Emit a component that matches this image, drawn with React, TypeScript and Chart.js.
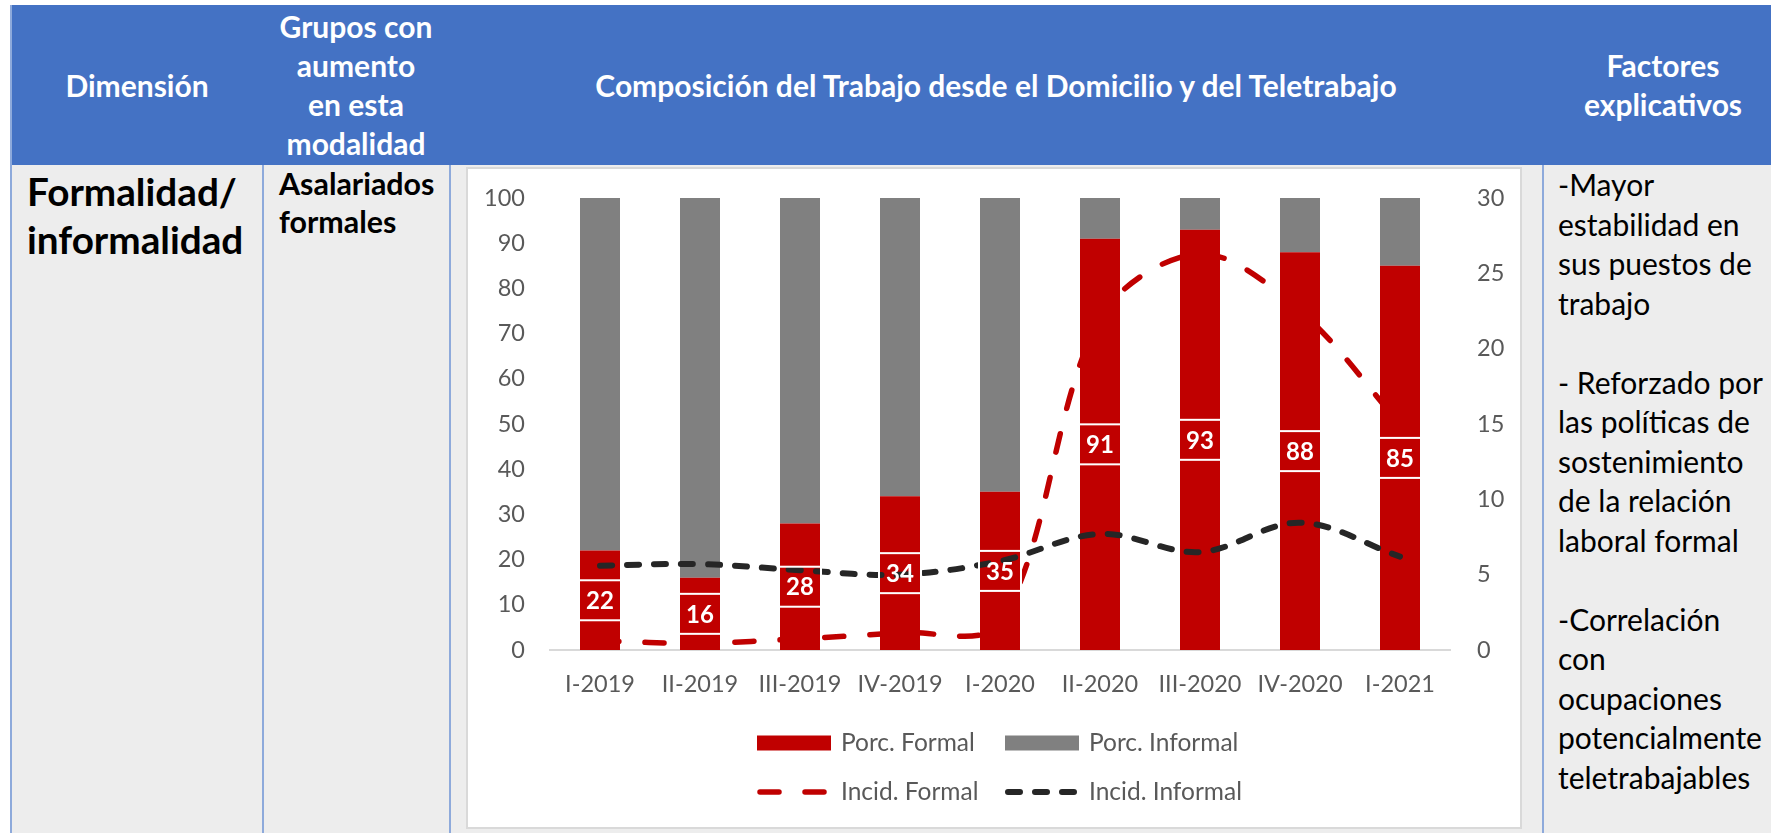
import React, { useEffect, useRef } from "react";
import { Chart, registerables } from "chart.js";

Chart.register(...registerables);

const categories = ["I-2019", "II-2019", "III-2019", "IV-2019", "I-2020", "II-2020", "III-2020", "IV-2020", "I-2021"];
const porcFormal = [22, 16, 28, 34, 35, 91, 93, 88, 85];
const porcInformal = [78, 84, 72, 66, 65, 9, 7, 12, 15];
const incidFormal = [0.6, 0.45, 0.75, 1.15, 1.8, 22, 26.3, 22.5, 15];
const incidInformal = [5.6, 5.7, 5.3, 5.0, 5.9, 7.7, 6.5, 8.45, 6.2];

const leftAxisMax = 100;
const leftAxisStep = 10;
const rightAxisMax = 30;
const rightAxisStep = 5;

const seriesLabels = ["Porc. Formal", "Porc. Informal", "Incid. Formal", "Incid. Informal"];

const headerTitles = ["Dimensión", "Grupos con\naumento\nen esta\nmodalidad", "Composición del Trabajo desde el Domicilio y del Teletrabajo", "Factores\nexplicativos"];
const dimensionText = ["Formalidad/", "informalidad"];
const groupText = ["Asalariados", "formales"];
const factorLines = [
  "-Mayor", "estabilidad en", "sus puestos de", "trabajo", "",
  "- Reforzado por", "las políticas de", "sostenimiento", "de la relación", "laboral formal", "",
  "-Correlación", "con", "ocupaciones", "potencialmente", "teletrabajables",
];

const FONT = "Lato, 'Open Sans', sans-serif";
const RED = "#C00000";
const GREY = "#808080";
const DARK = "#262626";
const TICK = "#595959";

const barLabelPlugin = {
  id: "barLabels",
  afterDatasetsDraw(chart: any) {
    const meta = chart.getDatasetMeta(0);
    const values = chart.data.datasets[0].data as number[];
    const ctx = chart.ctx as CanvasRenderingContext2D;
    ctx.save();
    ctx.font = `bold 24px ${FONT}`;
    ctx.textAlign = "center";
    ctx.textBaseline = "middle";
    meta.data.forEach((el: any, i: number) => {
      const p = el.getProps(["x", "y", "base", "width"], true);
      const cy = (p.y + p.base) / 2;
      const w = p.width + 2;
      const h = 40;
      ctx.strokeStyle = "#ffffff";
      ctx.lineWidth = 2;
      ctx.strokeRect(p.x - w / 2, cy - h / 2, w, h);
      ctx.fillStyle = "#ffffff";
      ctx.fillText(String(values[i]), p.x, cy + 1);
    });
    ctx.restore();
  },
};

const legendPlugin = {
  id: "customLegend",
  afterDraw(chart: any) {
    const ctx = chart.ctx as CanvasRenderingContext2D;
    const a = chart.chartArea;
    const ds = chart.data.datasets;
    const cols = [a.left + 207, a.left + 455];
    const rows = [a.bottom + 93, a.bottom + 142];
    ctx.save();
    ctx.font = `24.5px ${FONT}`;
    ctx.textBaseline = "middle";
    ctx.textAlign = "left";
    ds.forEach((d: any, i: number) => {
      const col = i % 2;
      const row = Math.floor(i / 2);
      const x = cols[col];
      const y = rows[row];
      if (row === 0) {
        ctx.fillStyle = d.backgroundColor;
        ctx.fillRect(x, y - 7.5, 74, 15);
      } else {
        ctx.strokeStyle = d.borderColor;
        ctx.lineWidth = d.borderWidth;
        ctx.lineCap = "round";
        ctx.setLineDash(d.borderDash);
        ctx.beginPath();
        ctx.moveTo(x + 3, y);
        ctx.lineTo(x + 72, y);
        ctx.stroke();
        ctx.setLineDash([]);
      }
      ctx.fillStyle = TICK;
      ctx.fillText(d.label, x + 84, y);
    });
    ctx.restore();
  },
};

const noVerticalPadding = (s: any, w: number) => {
  s.width = w;
  s.paddingTop = 0;
  s.paddingBottom = 0;
};

function ChartBox() {
  const ref = useRef<HTMLCanvasElement>(null);
  useEffect(() => {
    const tickFont = { family: FONT, size: 23.5 };
    const chart = new Chart(ref.current as HTMLCanvasElement, {
      type: "bar",
      data: {
        labels: categories,
        datasets: [
          { type: "bar", label: seriesLabels[0], data: porcFormal, backgroundColor: RED, yAxisID: "y", stack: "s", order: 2, barPercentage: 0.4, categoryPercentage: 1 },
          { type: "bar", label: seriesLabels[1], data: porcInformal, backgroundColor: GREY, yAxisID: "y", stack: "s", order: 2, barPercentage: 0.4, categoryPercentage: 1 },
          { type: "line", label: seriesLabels[2], data: incidFormal, yAxisID: "y1", borderColor: RED, backgroundColor: RED, borderWidth: 5.5, borderDash: [19, 26], borderCapStyle: "round", pointRadius: 0, tension: 0.33, fill: false, order: 1 },
          { type: "line", label: seriesLabels[3], data: incidInformal, yAxisID: "y1", borderColor: DARK, backgroundColor: DARK, borderWidth: 6, borderDash: [12, 15], borderCapStyle: "round", pointRadius: 0, tension: 0.35, fill: false, order: 0 },
        ] as any,
      },
      options: {
        animation: false,
        responsive: false,
        events: [],
        layout: { padding: { top: 29, left: 0, right: 0, bottom: 0 } },
        plugins: { legend: { display: false }, tooltip: { enabled: false } },
        scales: {
          x: {
            stacked: true,
            grid: { display: false, drawTicks: false },
            border: { display: true, color: "#d9d9d9", width: 2 },
            ticks: { color: TICK, font: tickFont, padding: 20, maxRotation: 0, autoSkip: false },
            afterFit: (s: any) => { s.height = 177; },
          },
          y: {
            position: "left",
            stacked: true,
            min: 0,
            max: leftAxisMax,
            grid: { display: false, drawTicks: false },
            border: { display: false },
            ticks: { stepSize: leftAxisStep, color: TICK, font: tickFont, padding: 25 },
            afterFit: (s: any) => noVerticalPadding(s, 82),
          },
          y1: {
            position: "right",
            min: 0,
            max: rightAxisMax,
            grid: { display: false, drawTicks: false },
            border: { display: false },
            ticks: { stepSize: rightAxisStep, color: TICK, font: tickFont, padding: 27 },
            afterFit: (s: any) => noVerticalPadding(s, 70),
          },
        },
      } as any,
      plugins: [barLabelPlugin, legendPlugin],
    });
    return () => chart.destroy();
  }, []);
  return <canvas ref={ref} width={1052} height={658} style={{ display: "block" }} />;
}

export default function App() {
  const lineColor = "#8EAADB";
  const headerCell = (left: number, width: number, text: string, lh: number) => (
    <div
      style={{
        position: "absolute", left, top: 5, width, height: 160,
        display: "flex", alignItems: "center", justifyContent: "center",
        color: "#fff", fontWeight: 700, fontSize: 30, lineHeight: `${lh}px`, textAlign: "center", whiteSpace: "pre",
      }}
    >
      {text}
    </div>
  );
  return (
    <div style={{ position: "absolute", left: 0, top: 0, width: 1771, height: 833, overflow: "hidden", background: "#fff", fontFamily: FONT }}>
      <div style={{ position: "absolute", left: 11, top: 5, width: 1800, height: 160, background: "#4472C4" }} />
      <div style={{ position: "absolute", left: 11, top: 165, width: 1800, height: 700, background: "#EDEDED" }} />
      {[10, 262, 449, 1542].map((x) => (
        <div key={x} style={{ position: "absolute", left: x, top: x === 10 ? 5 : 165, width: 2, height: 900, background: lineColor }} />
      ))}
      {headerCell(12, 250, headerTitles[0], 39)}
      {headerCell(263, 186, headerTitles[1], 39)}
      {headerCell(450, 1092, headerTitles[2], 39)}
      {headerCell(1543, 240, headerTitles[3], 39)}

      <div style={{ position: "absolute", left: 27, top: 167, fontWeight: 700, fontSize: 38.7, lineHeight: "48px", color: "#000", whiteSpace: "pre" }}>
        {dimensionText.join("\n")}
      </div>
      <div style={{ position: "absolute", left: 279, top: 164, fontWeight: 700, fontSize: 30.4, lineHeight: "38px", color: "#000", whiteSpace: "pre" }}>
        {groupText.join("\n")}
      </div>
      <div style={{ position: "absolute", left: 1558, top: 165, fontSize: 30, lineHeight: "39.5px", color: "#000", whiteSpace: "pre" }}>
        {factorLines.map((l) => (l === "" ? " " : l)).join("\n")}
      </div>

      <div style={{ position: "absolute", left: 466, top: 167, width: 1056, height: 662, boxSizing: "border-box", border: "2px solid #d9d9d9", background: "#fff" }}>
        <ChartBox />
      </div>
    </div>
  );
}
